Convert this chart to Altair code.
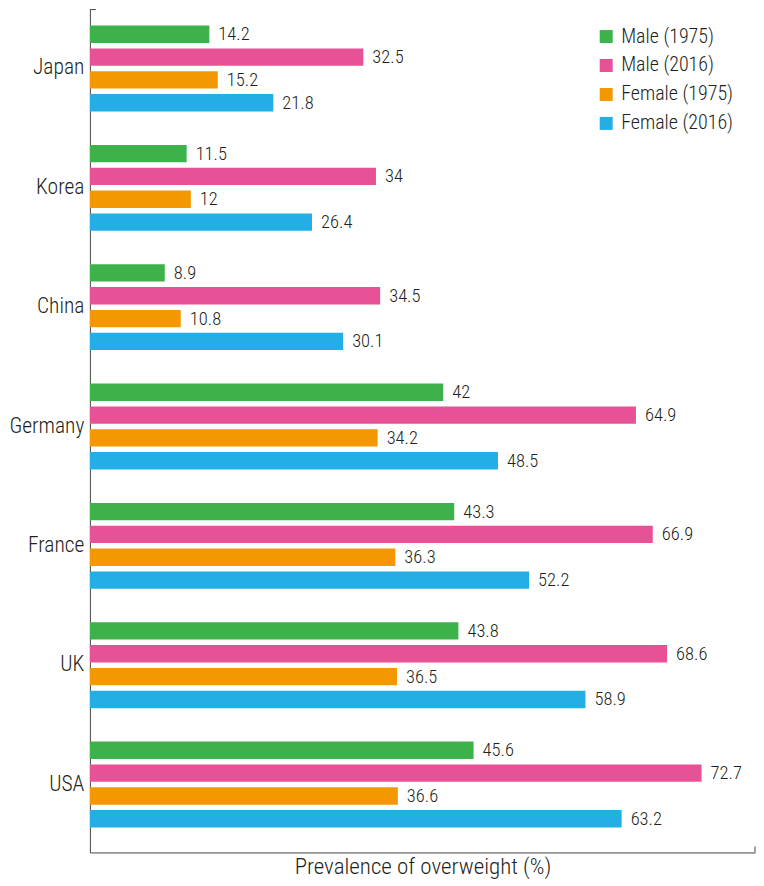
import altair as alt
import pandas as pd

countries = ["Japan", "Korea", "China", "Germany", "France", "UK", "USA"]
series = ["Male (1975)", "Male (2016)", "Female (1975)", "Female (2016)"]
male_1975 = [14.2, 11.5, 8.9, 42, 43.3, 43.8, 45.6]
male_2016 = [32.5, 34, 34.5, 64.9, 66.9, 68.6, 72.7]
female_1975 = [15.2, 12, 10.8, 34.2, 36.3, 36.5, 36.6]
female_2016 = [21.8, 26.4, 30.1, 48.5, 52.2, 58.9, 63.2]
colors = ["#3db24b", "#e75196", "#f39800", "#23aee5"]

rows = []
for i, c in enumerate(countries):
    for s, vals in zip(series, [male_1975, male_2016, female_1975, female_2016]):
        v = vals[i]
        rows.append({"country": c, "series": s, "value": v,
                     "label": (str(int(v)) if float(v).is_integer() else str(v))})
df = pd.DataFrame(rows)

FONT = "Roboto Condensed, Liberation Sans Narrow, Roboto, sans-serif"
WEIGHT = 300
INK = "#231f20"
W, H = 666, 844
XMAX = 79.05

yscale = alt.Scale(domain=countries, paddingInner=0.2803, paddingOuter=0.1715, align=0.39)
xscale = alt.Scale(domain=[0, XMAX], nice=False, zero=True)

base = alt.Chart(df).encode(
    y=alt.Y("country:N", scale=yscale, sort=countries,
            axis=alt.Axis(title=None, ticks=False, labelFontSize=21.5, labelFont=FONT,
                          labelFontWeight=WEIGHT,
                          labelColor=INK, labelPadding=6, domainColor="#444",
                          minExtent=80, maxExtent=80)),
    yOffset=alt.YOffset("series:N", sort=series,
                        scale=alt.Scale(domain=series, paddingInner=0.24, paddingOuter=0)),
)

bars = base.mark_bar().encode(
    x=alt.X("value:Q", scale=xscale,
            axis=alt.Axis(title="Prevalence of overweight (%)", labels=False, ticks=False,
                          grid=False, domainColor="#444", titleFont=FONT, titleFontSize=23,
                          titleFontWeight=WEIGHT, titleColor=INK, titlePadding=3)),
    color=alt.Color("series:N", sort=series,
                    scale=alt.Scale(domain=series, range=colors),
                    legend=alt.Legend(title=None, orient="none", legendX=507, legendY=17,
                                      symbolType="square", symbolSize=169, symbolStrokeWidth=0,
                                      labelFont=FONT, labelFontSize=20, labelFontWeight=WEIGHT,
                                      labelColor=INK,
                                      labelOffset=5, rowPadding=9, padding=0)),
)

text = base.mark_text(align="left", baseline="middle", dx=9, font=FONT, fontWeight=WEIGHT,
                      fontSize=18.5, color=INK).encode(
    x=alt.X("value:Q", scale=xscale),
    text="label:N",
)

tick_top = alt.Chart(pd.DataFrame({"v": [0]})).mark_rule(color="#444", strokeWidth=1).encode(
    x=alt.X("v:Q", scale=xscale), x2=alt.value(6), y=alt.value(0))
tick_right = alt.Chart(pd.DataFrame({"v": [XMAX]})).mark_rule(color="#444", strokeWidth=1).encode(
    x=alt.X("v:Q", scale=xscale), y=alt.value(H - 6), y2=alt.value(H))

chart = alt.layer(bars, text, tick_top, tick_right).properties(
    width=W, height=H, padding={"left": 0, "top": 0, "right": 0, "bottom": 0}
).configure_view(stroke=None).configure_axis(grid=False)

chart.save("out.html", embed_options={"renderer": "svg", "actions": False})
